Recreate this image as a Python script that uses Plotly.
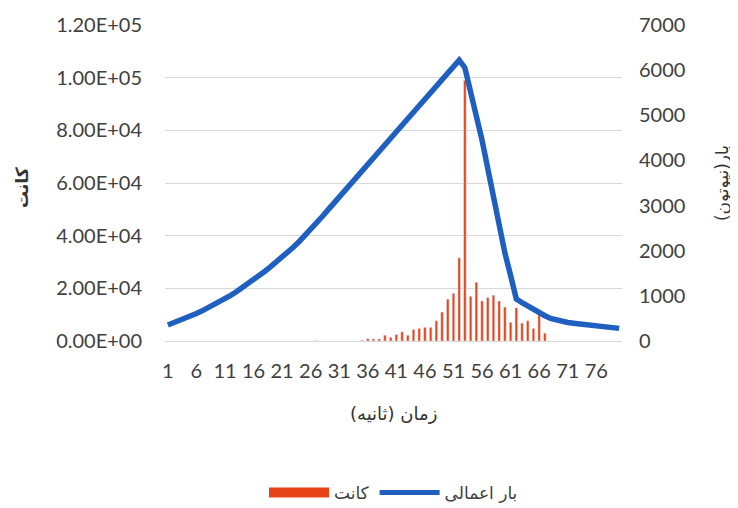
import plotly.graph_objects as go

seconds = list(range(1, 81))

# Applied load (N), right axis
load_n = [355, 400, 448, 499, 553, 609, 668, 730, 795, 863,
          935, 1011, 1091, 1175, 1263, 1355, 1449, 1546, 1646, 1749,
          1856, 1967, 2083, 2205, 2333, 2467, 2607, 2752, 2900, 3048,
          3190, 3335, 3480, 3625, 3770, 3915, 4060, 4200, 4345, 4490,
          4635, 4780, 4920, 5065, 5210, 5355, 5500, 5640, 5785, 5930,
          6075, 6220, 6050, 5570, 4980, 4450, 3800, 3200, 2500, 1950,
          1450, 930, 850, 770, 700, 630, 560, 500, 460, 430,
          410, 395, 380, 365, 350, 340, 325, 310, 290, 280]

# Counts, left axis
count_seconds = [27, 35, 36, 37, 38, 39, 40, 41, 42, 43, 44, 45, 46, 47, 48, 49, 50,
                 51, 52, 53, 54, 55, 56, 57, 58, 59, 60, 61, 62, 63, 64, 65, 66, 67]
counts = [200, 300, 900, 800, 800, 2200, 1400, 2500, 3500, 2200, 4400, 4800, 5200, 5200, 7700, 11000, 15900,
          18100, 31600, 99000, 17000, 22300, 15200, 16500, 17400, 15200, 12900, 7100, 12600, 6800, 7700, 4800, 10000, 3000]

x_tickvals = list(range(1, 80, 5))
left_tickvals = [0, 20000, 40000, 60000, 80000, 100000, 120000]
left_ticktext = ["0.00E+00", "2.00E+04", "4.00E+04", "6.00E+04", "8.00E+04", "1.00E+05", "1.20E+05"]
right_tickvals = [0, 1000, 2000, 3000, 4000, 5000, 6000, 7000]

BAR_COLOR = "#E8441A"
LINE_COLOR = "#1F5FC0"
TICK_FONT = dict(family="Lato, Open Sans, sans-serif", size=20, color="#404040")
FA_FONT = "DejaVu Sans, Noto Sans, sans-serif"

fig = go.Figure()
fig.add_trace(go.Bar(x=count_seconds, y=counts, marker_color=BAR_COLOR, width=0.45,
                     name="کانت", showlegend=False, yaxis="y"))
fig.add_trace(go.Scatter(x=seconds, y=load_n, mode="lines", line=dict(color=LINE_COLOR, width=5.5),
                         name="بار اعمالی", showlegend=False, yaxis="y2"))
# legend entries
fig.add_trace(go.Scatter(x=[None], y=[None], mode="lines", line=dict(color=BAR_COLOR, width=11),
                         name="کانت", yaxis="y"))
fig.add_trace(go.Scatter(x=[None], y=[None], mode="lines", line=dict(color=LINE_COLOR, width=5),
                         name="بار اعمالی", yaxis="y2"))

# page body adds an 8px offset, so the figure is 730x500 drawn at (8, 8)
fig.update_layout(
    width=730, height=500,
    margin=dict(l=157, r=116, t=17, b=167, autoexpand=False),
    paper_bgcolor="white", plot_bgcolor="white",
    showlegend=True,
    legend=dict(orientation="h", x=0.5, xanchor="center", y=-0.481, yanchor="middle",
                font=dict(family=FA_FONT, size=17, color="#404040"), itemwidth=60,
                traceorder="normal"),
    xaxis=dict(range=[0.5, 80.5], tickmode="array", tickvals=x_tickvals,
               showgrid=False, showline=True, linecolor="#D9D9D9", linewidth=1,
               ticks="", tickfont=TICK_FONT, ticklabelstandoff=12, zeroline=False),
    yaxis=dict(range=[0, 120000], tickmode="array", tickvals=left_tickvals, ticktext=left_ticktext,
               showgrid=True, gridcolor="#D9D9D9", gridwidth=1, zeroline=False,
               showline=False, ticks="", tickfont=TICK_FONT, ticklabelstandoff=22),
    yaxis2=dict(range=[0, 7000], tickmode="array", tickvals=right_tickvals, overlaying="y",
                side="right", showgrid=False, zeroline=False, showline=False, ticks="",
                tickfont=TICK_FONT, ticklabelstandoff=16),
    bargap=0.5,
    annotations=[
        dict(text="<b>کانت</b>", xref="paper", yref="paper", x=-0.313, y=0.487, textangle=-90,
             showarrow=False, font=dict(family=FA_FONT, size=17, color="#333333"),
             xanchor="center", yanchor="middle"),
        dict(text="بار(نیوتون)", xref="paper", yref="paper", x=1.219, y=0.5, textangle=-90,
             showarrow=False, font=dict(family=FA_FONT, size=17, color="#333333"),
             xanchor="center", yanchor="middle"),
        dict(text="زمان (ثانیه)", xref="paper", yref="paper", x=0.499, y=-0.228,
             showarrow=False, font=dict(family=FA_FONT, size=18, color="#333333"),
             xanchor="center", yanchor="middle"),
    ],
)

fig.write_html("out.html")
